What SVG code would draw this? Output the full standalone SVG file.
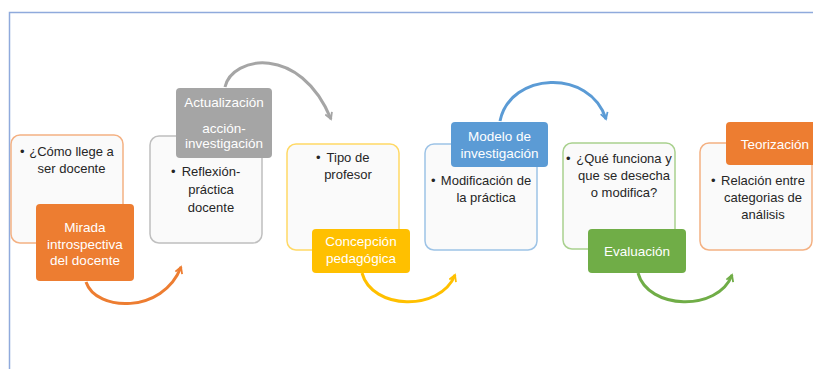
<svg xmlns="http://www.w3.org/2000/svg" width="813" height="369" viewBox="0 0 813 369">
<defs>
<style>
.box{fill:#fafafa;stroke-width:1.5}
.lbl{stroke:none}
.body{font-family:"Liberation Sans",Arial,sans-serif;font-size:13px;fill:#262626;text-anchor:middle}
.bul{font-family:"Liberation Sans",Arial,sans-serif;font-size:13px;fill:#262626}
.ltxt{font-family:"Liberation Sans",Arial,sans-serif;font-size:13.5px;fill:#ffffff;text-anchor:middle}
.arc{fill:none;stroke-width:3}
</style>
<marker id="mo" viewBox="0 0 10 10" refX="8" refY="5" markerWidth="9" markerHeight="9" markerUnits="userSpaceOnUse" orient="auto"><path d="M1,1 L8,5 L1,9" fill="none" stroke="#ED7D31" stroke-width="2"/></marker>
<marker id="mg" viewBox="0 0 10 10" refX="8" refY="5" markerWidth="9" markerHeight="9" markerUnits="userSpaceOnUse" orient="auto"><path d="M1,1 L8,5 L1,9" fill="none" stroke="#A5A5A5" stroke-width="2"/></marker>
<marker id="my" viewBox="0 0 10 10" refX="8" refY="5" markerWidth="9" markerHeight="9" markerUnits="userSpaceOnUse" orient="auto"><path d="M1,1 L8,5 L1,9" fill="none" stroke="#FFC000" stroke-width="2"/></marker>
<marker id="mb" viewBox="0 0 10 10" refX="8" refY="5" markerWidth="9" markerHeight="9" markerUnits="userSpaceOnUse" orient="auto"><path d="M1,1 L8,5 L1,9" fill="none" stroke="#5B9BD5" stroke-width="2"/></marker>
<marker id="mgr" viewBox="0 0 10 10" refX="8" refY="5" markerWidth="9" markerHeight="9" markerUnits="userSpaceOnUse" orient="auto"><path d="M1,1 L8,5 L1,9" fill="none" stroke="#70AD47" stroke-width="2"/></marker>
</defs>
<rect x="0" y="0" width="813" height="369" fill="#ffffff"/>
<g id="frame">
<path d="M9.5,369 L9.5,12.5 L813,12.5" fill="none" stroke="#8FAADC" stroke-width="1.5"/>
</g>
<g id="connectors">
<path class="arc" stroke="#ED7D31" d="M86,282 C96,312 163,314 181,267" marker-end="url(#mo)"/>
<path class="arc" stroke="#A5A5A5" d="M225,87 C232,56 300,44 331,119" marker-end="url(#mg)"/>
<path class="arc" stroke="#FFC000" d="M362,273 C372,310 440,312 455,275" marker-end="url(#my)"/>
<path class="arc" stroke="#5B9BD5" d="M500,121 C510,72 590,68 606,119" marker-end="url(#mb)"/>
<path class="arc" stroke="#70AD47" d="M638,273 C648,310 718,312 732,275" marker-end="url(#mgr)"/>
</g>
<g id="node1">
<rect class="box" x="11" y="135" width="112" height="108" rx="9" stroke="#F4B183"/>
<text class="bul" x="20" y="156">•</text>
<text class="body" x="71.5" y="156">¿Cómo llege a</text>
<text class="body" x="71.5" y="173">ser docente</text>
<rect class="lbl" x="36" y="204" width="98" height="77" rx="4" fill="#ED7D31"/>
<text class="ltxt" x="85" y="232" font-size="13">Mirada</text>
<text class="ltxt" x="85" y="248.5">introspectiva</text>
<text class="ltxt" x="85" y="265">del docente</text>
</g>
<g id="node2">
<rect class="box" x="150" y="136" width="112" height="107" rx="9" stroke="#BFBFBF"/>
<text class="bul" x="171" y="176">•</text>
<text class="body" x="211" y="176">Reflexión-</text>
<text class="body" x="211" y="194">práctica</text>
<text class="body" x="211" y="212">docente</text>
<rect class="lbl" x="176" y="88" width="96" height="70" rx="4" fill="#A5A5A5"/>
<text class="ltxt" x="224" y="107" fill="#f2f2f2">Actualización</text>
<text class="ltxt" x="224" y="133" fill="#f2f2f2">acción-</text>
<text class="ltxt" x="224" y="148" fill="#f2f2f2">investigación</text>
</g>
<g id="node3">
<rect class="box" x="287" y="144" width="112" height="106" rx="9" stroke="#FFD966"/>
<text class="bul" x="316" y="162">•</text>
<text class="body" x="348" y="162">Tipo de</text>
<text class="body" x="348" y="179">profesor</text>
<rect class="lbl" x="312" y="229" width="98" height="44" rx="4" fill="#FFC000"/>
<text class="ltxt" x="361" y="246">Concepción</text>
<text class="ltxt" x="361" y="263">pedagógica</text>
</g>
<g id="node4">
<rect class="box" x="425" y="144" width="112" height="106" rx="9" stroke="#9DC3E6"/>
<text class="bul" x="431" y="185">•</text>
<text class="body" x="486" y="185">Modificación de</text>
<text class="body" x="486" y="202">la práctica</text>
<rect class="lbl" x="451" y="122" width="97" height="45" rx="4" fill="#5B9BD5"/>
<text class="ltxt" x="499.5" y="141">Modelo de</text>
<text class="ltxt" x="499.5" y="158">investigación</text>
</g>
<g id="node5">
<rect class="box" x="563" y="143" width="112" height="106" rx="9" stroke="#A9D18E"/>
<text class="bul" x="566" y="163">•</text>
<text class="body" x="624" y="163">¿Qué funciona y</text>
<text class="body" x="624" y="180">que se desecha</text>
<text class="body" x="624" y="197">o modifica?</text>
<rect class="lbl" x="588" y="229" width="98" height="44" rx="4" fill="#70AD47"/>
<text class="ltxt" x="637" y="256">Evaluación</text>
</g>
<g id="node6">
<rect class="box" x="700" y="143" width="112" height="107" rx="9" stroke="#F4B183"/>
<text class="bul" x="711" y="185">•</text>
<text class="body" x="763" y="185">Relación entre</text>
<text class="body" x="763" y="202">categorias de</text>
<text class="body" x="763" y="219">análisis</text>
<rect class="lbl" x="726" y="122" width="98" height="43" rx="4" fill="#ED7D31"/>
<text class="ltxt" x="775" y="149">Teorización</text>
</g>
</svg>
